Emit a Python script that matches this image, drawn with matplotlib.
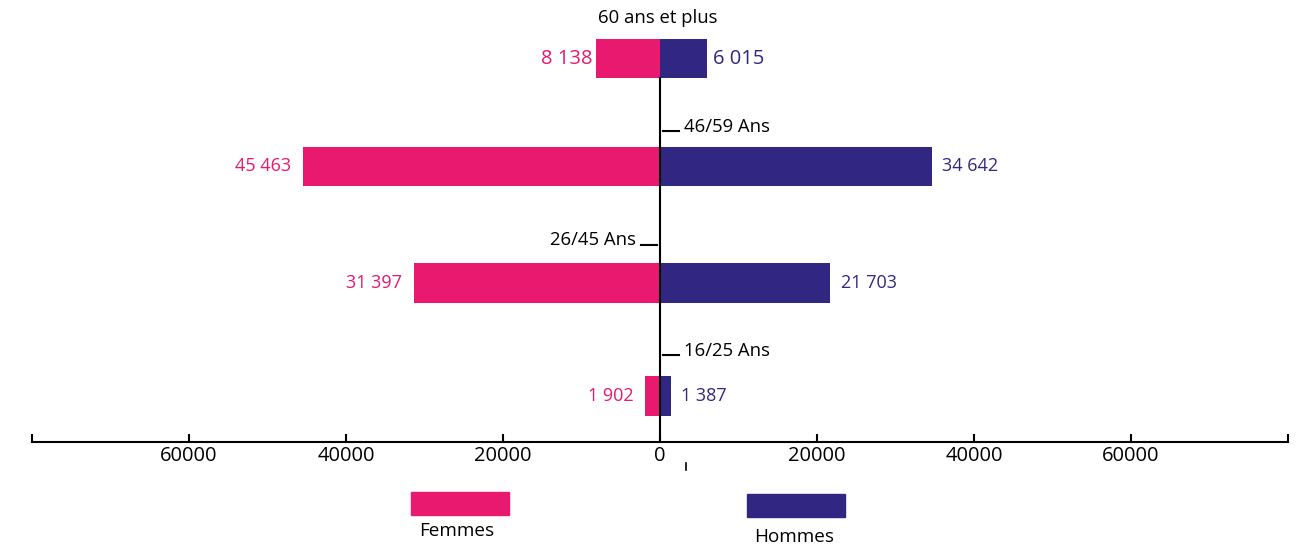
import numpy as np
import matplotlib.pyplot as plt
from matplotlib.patches import Rectangle
from matplotlib.lines import Line2D

## data
ages = ['16/25 Ans', '26/45 Ans', '46/59 Ans', '60 ans et plus']
femmes = [1902, 31397, 45463, 8138]
hommes = [1387, 21703, 34642, 6015]
f_labels = ['1 902', '31 397', '45 463', '8 138']
h_labels = ['1 387', '21 703', '34 642', '6 015']
ticks = [-60000, -40000, -20000, 0, 20000, 40000, 60000]
tick_labels = ['60000', '40000', '20000', '0', '20000', '40000', '60000']

pink = '#E8196F'
navy = '#312783'
plt.rcParams['font.family'] = ['Open Sans', 'DejaVu Sans']

W, H = 1300, 547
fig = plt.figure(figsize=(W/100, H/100), dpi=100)
# axes spans pixel x 32..1288, y 0..442 (from top)
ax = fig.add_axes([32/W, (H-442)/H, 1256/W, 442/H])
ax.set_xlim(-80000, 80000)
ax.set_ylim(-0.41, 3.51)

y = [0, 1.0, 2.035, 2.99]
h = 0.35
ax.barh(y, [-v for v in femmes], height=h, color=pink, linewidth=0)
ax.barh(y, hommes, height=h, color=navy, linewidth=0)

for i in range(len(ages)):
    if i == 3:
        fs, off_f, off_h = 14.5, 500, 800
    else:
        fs, off_f, off_h = 13, 1500, 1300
    ax.text(-femmes[i]-off_f, y[i], f_labels[i], color=pink, ha='right', va='center', fontsize=fs)
    ax.text(hommes[i]+off_h, y[i], h_labels[i], color=navy, ha='left', va='center', fontsize=fs)

# central axis
ax.plot([0, 0], [-0.41, y[3]-h/2], color='black', lw=1.5, zorder=3)

# age labels with small leader lines
ax.text(-300, 3.35, ages[3], ha='center', va='center', fontsize=13.3)
for i, side, dy in [(2, 1, 0.31), (0, 1, 0.36), (1, -1, 0.34)]:
    yy = y[i] + dy
    x0, x1 = 400*side, 2400*side
    ax.plot([x0, x1], [yy, yy], color='black', lw=1.5)
    ax.text(x1 + 700*side, yy + 0.04, ages[i], ha='left' if side > 0 else 'right',
            va='center', fontsize=13.3)

# bottom axis with upward ticks
for s in ['top', 'right', 'left']:
    ax.spines[s].set_visible(False)
ax.spines['bottom'].set_linewidth(1.5)
ax.set_yticks([])
ax.set_xticks(ticks + [-80000, 80000])
ax.set_xticklabels(tick_labels + ['', ''], fontsize=14.5)
ax.tick_params(axis='x', direction='in', length=6, width=1.5, pad=3)

# legend
fig.add_artist(Rectangle((411/W, (H-515)/H), 98/W, 23/H, color=pink, transform=fig.transFigure))
fig.text(457/W, (H-531)/H, 'Femmes', ha='center', va='center', fontsize=13.6)
fig.add_artist(Rectangle((747/W, (H-517)/H), 98/W, 23/H, color=navy, transform=fig.transFigure))
fig.text(794/W, (H-537)/H, 'Hommes', ha='center', va='center', fontsize=13.6)
fig.add_artist(Line2D([686/W, 686/W], [(H-463)/H, (H-470)/H], color='black', lw=1.2,
                      transform=fig.transFigure))

fig.savefig('out.png', dpi=100)
